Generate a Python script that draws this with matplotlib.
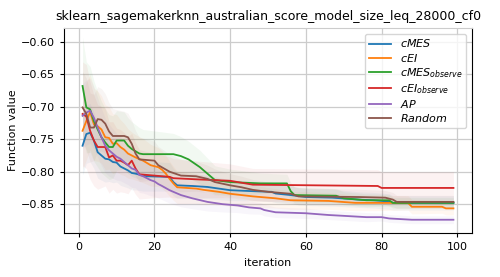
import matplotlib
matplotlib.use("Agg")
import matplotlib.pyplot as plt

TITLE = "sklearn_sagemakerknn_australian_score_model_size_leq_28000_cf0"
LABELS = ["$cMES$", "$cEI$", "$cMES_{observe}$", "$cEI_{observe}$", "$AP$", "$Random$"]
COLORS = ["C0", "C1", "C2", "C3", "C4", "C5"]

# cMES
cmes_x = [1, 2, 3, 4, 5, 6, 7, 8, 9, 10, 11, 12, 13, 14, 15, 17, 18, 24, 25, 26,
          30, 34, 37, 40, 46, 51, 52, 56, 60, 67, 74, 78, 82, 83, 99]
cmes_y = [-0.760, -0.742, -0.740, -0.752, -0.770, -0.775, -0.780, -0.781, -0.785, -0.786,
          -0.792, -0.795, -0.798, -0.802, -0.803, -0.806, -0.807, -0.808, -0.816, -0.821,
          -0.822, -0.8235, -0.826, -0.8285, -0.830, -0.831, -0.8336, -0.836, -0.839, -0.840,
          -0.843, -0.844, -0.846, -0.848, -0.848]
cmes_sd = [0.045, 0.045, 0.045, 0.043, 0.04, 0.038, 0.036, 0.034, 0.032, 0.03,
           0.029, 0.028, 0.027, 0.026, 0.025, 0.024, 0.023, 0.022, 0.021, 0.02,
           0.019, 0.018, 0.017, 0.016, 0.015, 0.015, 0.014, 0.014, 0.013, 0.013,
           0.012, 0.012, 0.012, 0.011, 0.011]

# cEI
cei_x = [1, 2, 3, 4, 5, 6, 7, 8, 9, 10, 11, 12, 13, 14, 15, 17, 19, 21, 22, 23,
         24, 25, 26, 31, 33, 37, 40, 46, 52, 56, 66, 73, 78, 87, 88, 96, 97, 99]
cei_y = [-0.737, -0.722, -0.708, -0.727, -0.730, -0.735, -0.747, -0.748, -0.757, -0.756,
         -0.762, -0.766, -0.772, -0.775, -0.778, -0.783, -0.790, -0.793, -0.797, -0.803,
         -0.811, -0.818, -0.824, -0.826, -0.828, -0.831, -0.834, -0.838, -0.841, -0.844,
         -0.845, -0.848, -0.848, -0.848, -0.854, -0.854, -0.8565, -0.8565]
cei_sd = [0.06, 0.06, 0.058, 0.056, 0.054, 0.052, 0.05, 0.048, 0.046, 0.044,
          0.042, 0.04, 0.038, 0.036, 0.035, 0.034, 0.032, 0.03, 0.029, 0.028,
          0.027, 0.026, 0.025, 0.023, 0.022, 0.02, 0.019, 0.017, 0.015, 0.014,
          0.013, 0.012, 0.012, 0.011, 0.011, 0.01, 0.01, 0.01]

# cMES observe
cmes_obs_x = [1, 2, 3, 4, 5, 6, 7, 8, 9, 10, 11, 12, 13, 14, 16, 17, 25, 27, 29, 32,
              34, 36, 40, 44, 48, 55, 56, 57, 68, 70, 76, 82, 83, 99]
cmes_obs_y = [-0.668, -0.701, -0.704, -0.722, -0.735, -0.747, -0.755, -0.762, -0.762, -0.752,
              -0.752, -0.752, -0.760, -0.765, -0.772, -0.773, -0.773, -0.776, -0.781, -0.793,
              -0.803, -0.813, -0.816, -0.817, -0.818, -0.818, -0.830, -0.836, -0.837, -0.841,
              -0.844, -0.844, -0.848, -0.848]
cmes_obs_sd = [0.075, 0.07, 0.066, 0.062, 0.058, 0.055, 0.052, 0.05, 0.048, 0.046,
               0.045, 0.044, 0.043, 0.042, 0.04, 0.038, 0.032, 0.03, 0.028, 0.026,
               0.024, 0.022, 0.02, 0.018, 0.016, 0.014, 0.013, 0.012, 0.011, 0.01,
               0.01, 0.009, 0.008, 0.008]

# cEI observe
cei_obs_x = [1, 2, 3, 4, 5, 7, 8, 9, 10, 11, 12, 13, 14, 15, 16, 20, 24, 25, 32, 40,
             46, 79, 80, 99]
cei_obs_y = [-0.711, -0.715, -0.737, -0.752, -0.762, -0.762, -0.778, -0.775, -0.783, -0.783,
             -0.786, -0.790, -0.783, -0.795, -0.804, -0.806, -0.808, -0.810, -0.812, -0.814,
             -0.820, -0.822, -0.825, -0.825]
cei_obs_sd = [0.08, 0.08, 0.075, 0.07, 0.065, 0.06, 0.055, 0.052, 0.05, 0.048,
              0.046, 0.044, 0.042, 0.04, 0.038, 0.034, 0.031, 0.03, 0.028, 0.026,
              0.025, 0.025, 0.025, 0.025]

# AP
ap_x = [1, 2, 3, 4, 5, 6, 7, 8, 9, 10, 11, 12, 13, 14, 15, 16, 17, 18, 19, 20,
        21, 22, 24, 27, 30, 34, 38, 42, 45, 48, 49, 52, 60, 66, 70, 76, 80, 82, 88, 99]
ap_y = [-0.714, -0.709, -0.706, -0.717, -0.732, -0.747, -0.760, -0.767, -0.772, -0.777,
        -0.780, -0.785, -0.790, -0.795, -0.797, -0.805, -0.807, -0.810, -0.813, -0.815,
        -0.819, -0.822, -0.8285, -0.836, -0.841, -0.8465, -0.850, -0.852, -0.855, -0.8565,
        -0.859, -0.8625, -0.864, -0.8667, -0.868, -0.870, -0.870, -0.872, -0.874, -0.874]
ap_sd = [0.05, 0.05, 0.05, 0.048, 0.046, 0.044, 0.042, 0.04, 0.038, 0.036,
         0.034, 0.032, 0.03, 0.029, 0.028, 0.027, 0.026, 0.025, 0.024, 0.023,
         0.022, 0.021, 0.02, 0.018, 0.016, 0.014, 0.012, 0.011, 0.01, 0.009,
         0.009, 0.008, 0.008, 0.007, 0.007, 0.007, 0.006, 0.006, 0.006, 0.006]

# Random
rand_x = [1, 2, 3, 4, 5, 6, 7, 8, 9, 12, 13, 14, 15, 16, 20, 21, 24, 27, 31, 34,
          36, 40, 43, 46, 50, 56, 58, 74, 81, 83, 84, 99]
rand_y = [-0.701, -0.711, -0.732, -0.732, -0.719, -0.720, -0.726, -0.738, -0.745, -0.745,
          -0.747, -0.757, -0.772, -0.781, -0.783, -0.790, -0.800, -0.806, -0.807, -0.811,
          -0.816, -0.821, -0.824, -0.828, -0.831, -0.834, -0.838, -0.839, -0.840, -0.843,
          -0.8465, -0.8465]
rand_sd = [0.055, 0.055, 0.053, 0.051, 0.05, 0.048, 0.046, 0.044, 0.042, 0.038,
           0.037, 0.036, 0.035, 0.034, 0.03, 0.029, 0.027, 0.025, 0.023, 0.021,
           0.02, 0.018, 0.017, 0.016, 0.015, 0.014, 0.013, 0.012, 0.011, 0.011,
           0.01, 0.01]

SERIES = [
    (cmes_x, cmes_y, cmes_sd),
    (cei_x, cei_y, cei_sd),
    (cmes_obs_x, cmes_obs_y, cmes_obs_sd),
    (cei_obs_x, cei_obs_y, cei_obs_sd),
    (ap_x, ap_y, ap_sd),
    (rand_x, rand_y, rand_sd),
]

fig, ax = plt.subplots(figsize=(5.0, 2.77), dpi=100)
fig.subplots_adjust(left=0.128, right=0.944, bottom=0.159, top=0.899)

for (xs, ys, sd), label, color in zip(SERIES, LABELS, COLORS):
    lo = [y - s for y, s in zip(ys, sd)]
    hi = [y + s for y, s in zip(ys, sd)]
    ax.fill_between(xs, lo, hi, color=color, alpha=0.06, linewidth=0)
    ax.plot(xs, ys, color=color, label=label, linewidth=1.3)

ax.grid(True, color="#cccccc", linewidth=0.9)
ax.set_axisbelow(True)
ax.spines["top"].set_color("#cccccc")
ax.tick_params(labelsize=8, length=3)
ax.set_title(TITLE, fontsize=9)
ax.set_xlabel("iteration", fontsize=8)
ax.set_ylabel("Function value", fontsize=8, labelpad=2)
ax.legend(loc="upper right", fontsize=8, framealpha=0.8,
          labelspacing=0.2, borderpad=0.35, handlelength=2.0)

fig.savefig("out.png", dpi=100)
